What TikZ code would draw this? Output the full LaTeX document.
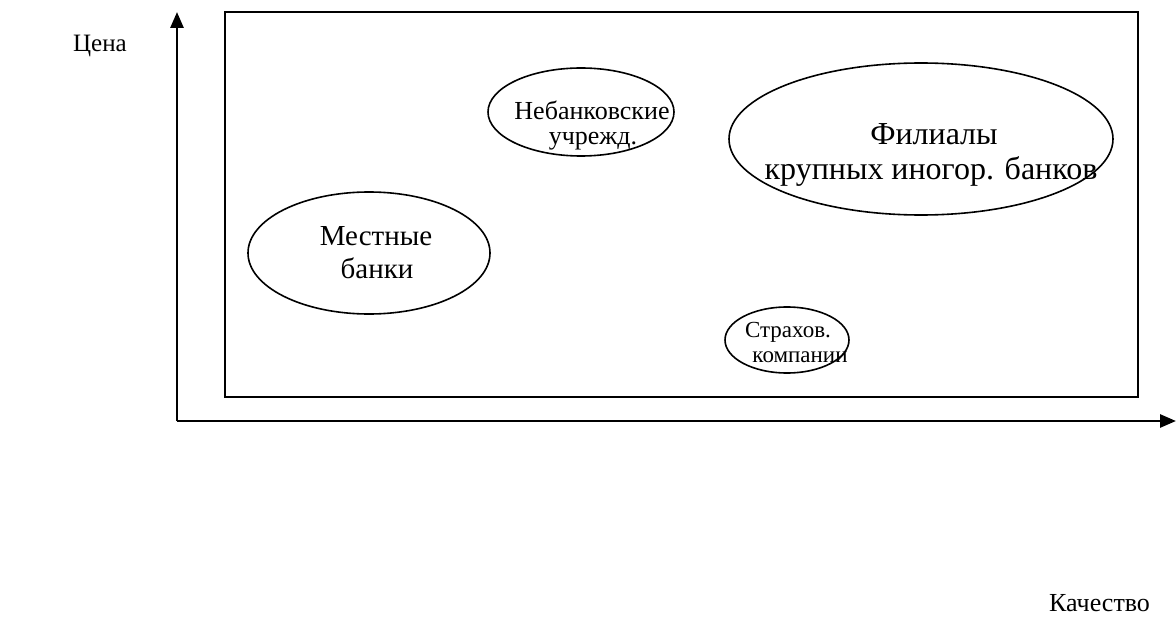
\documentclass[tikz,border=0pt]{standalone}
\usepackage{fontspec}
\setmainfont{Liberation Serif}
\usetikzlibrary{arrows.meta,shapes.geometric}
\begin{document}
\begin{tikzpicture}[x=1pt,y=-1pt,
  axis/.style={line width=2.8pt,-{Triangle[length=16pt,width=13pt]}},
  frame/.style={draw,line width=2.1pt},
  oval/.style={draw,ellipse,line width=1.6pt,inner sep=0pt},
  lbl/.style={inner sep=0pt,anchor=base,align=center}]
\useasboundingbox (0,0) rectangle (1176,623);
\coordinate (O) at (177,421);
\coordinate (Ytip) at (177,12);
\coordinate (Xtip) at (1176,421);
\draw[axis] (O) -- (Ytip);
\draw[axis] (O) -- (Xtip);
\node[frame,minimum width=913pt,minimum height=385pt,anchor=north west,inner sep=0pt] (box) at (224,11) {};
\node[oval,minimum width=242pt,minimum height=122pt] (local) at (369,253) {};
\node[oval,minimum width=186pt,minimum height=88pt] (nonbank) at (581,112) {};
\node[oval,minimum width=384pt,minimum height=152pt] (branch) at (921,139) {};
\node[oval,minimum width=124pt,minimum height=66pt] (insur) at (787,340) {};
\node[lbl,font=\fontsize{25}{29}\selectfont,anchor=base east] (price) at (127,52) {Цена};
\node[lbl,font=\fontsize{26}{30}\selectfont,anchor=base west] (quality) at (1049,611) {Качество};
\node[lbl,font=\fontsize{29}{33}\selectfont] (t1a) at (376,245) {Местные};
\node[lbl,font=\fontsize{29}{33}\selectfont] (t1b) at (377,278) {банки};
\node[lbl,font=\fontsize{26}{25}\selectfont] (t2a) at (592,120) {Небанковские};
\node[lbl,font=\fontsize{26}{25}\selectfont] (t2b) at (593,145) {учрежд.};
\node[lbl,font=\fontsize{32}{35}\selectfont] (t3a) at (934,145) {Филиалы};
\node[lbl,font=\fontsize{32}{35}\selectfont] (t3b) at (931,180) {крупных иногор. банков};
\node[lbl,font=\fontsize{23}{25}\selectfont] (t4a) at (788,337) {Страхов.};
\node[lbl,font=\fontsize{23}{25}\selectfont] (t4b) at (800,362) {компании};
\end{tikzpicture}
\end{document}
